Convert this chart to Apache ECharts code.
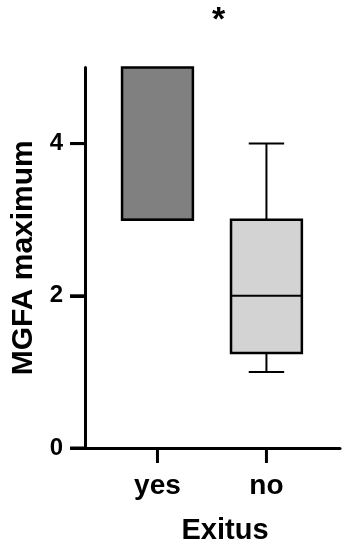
<!DOCTYPE html>
<html>
<head>
<meta charset="utf-8">
<script src="https://cdn.jsdelivr.net/npm/echarts@6/dist/echarts.min.js"></script>
<style>
html,body{margin:0;padding:0;background:#fff;}
#chart{width:349px;height:550px;}
</style>
</head>
<body>
<div id="chart"></div>
<script>
// Data
const categories = ['yes', 'no'];
const mins    = [3, 1];
const q1s     = [3, 1.25];
const medians = [3, 2];
const q3s     = [5, 3];
const maxs    = [5, 4];
const fills   = ['#808080', '#d3d3d3'];
const yTicks  = [0, 2, 4];
const xPositions = [1, 2];

const FONT = 'Liberation Sans, Arial, sans-serif';
const TICK_LEN = 15;
const X_MIN = 0.335, X_MAX = 2.675, Y_MIN = 0, Y_MAX = 5;

const boxData = categories.map((c, i) => [xPositions[i], mins[i], q1s[i], medians[i], q3s[i], maxs[i], i]);

const chart = echarts.init(document.getElementById('chart'));
chart.setOption({
  animation: false,
  backgroundColor: '#ffffff',
  grid: { left: 85, right: 9, top: 67.5, bottom: 100 },
  xAxis: {
    type: 'value',
    min: X_MIN,
    max: X_MAX,
    name: 'Exitus',
    nameLocation: 'middle',
    nameGap: 68,
    nameTextStyle: { fontFamily: FONT, fontWeight: 'bold', fontSize: 29, color: '#000', padding: [0, 0, 0, 25] },
    axisLine: { onZero: false, lineStyle: { color: '#000', width: 3 } },
    axisTick: { show: false },
    axisLabel: {
      customValues: xPositions.slice(),
      formatter: v => categories[xPositions.indexOf(v)] || '',
      fontFamily: FONT, fontWeight: 'bold', fontSize: 28, color: '#000', margin: 24
    },
    splitLine: { show: false }
  },
  yAxis: [{
    type: 'value',
    min: Y_MIN,
    max: Y_MAX,
    name: 'MGFA maximum',
    nameLocation: 'middle',
    nameGap: 46,
    nameRotate: 90,
    nameTextStyle: { fontFamily: FONT, fontWeight: 'bold', fontSize: 30, color: '#000' },
    axisLine: { onZero: false, show: true, lineStyle: { color: '#000', width: 3 } },
    axisTick: { show: false },
    axisLabel: { customValues: yTicks.slice(), fontFamily: FONT, fontWeight: 'bold', fontSize: 24, color: '#000', margin: 22 },
    splitLine: { show: false }
  }, {
    // tick-only companion axis sharing the same scale as the main y axis
    type: 'value',
    position: 'left',
    min: Y_MIN,
    max: Y_MAX,
    axisLine: { show: false, onZero: false },
    axisTick: { show: true, customValues: yTicks.slice(), length: TICK_LEN, lineStyle: { color: '#000', width: 3 } },
    axisLabel: { show: false },
    splitLine: { show: false }
  }],
  graphic: [{
    type: 'text',
    left: 212,
    top: 4,
    style: { text: '*', font: 'bold 34px ' + FONT, fill: '#000' }
  }],
  series: [{
    type: 'custom',
    data: boxData,
    encode: { x: 0, y: [1, 2, 3, 4, 5] },
    renderItem: function (params, api) {
      const x = api.value(0);
      const lo = api.value(1), q1 = api.value(2), med = api.value(3), q3 = api.value(4), hi = api.value(5);
      const idx = api.value(6);
      const unit = api.size([1, 0])[0];
      const w = unit * 0.65;
      const cw = w / 2;
      const pQ1 = api.coord([x, q1]);
      const pQ3 = api.coord([x, q3]);
      const pMed = api.coord([x, med]);
      const pLo = api.coord([x, lo]);
      const pHi = api.coord([x, hi]);
      const cx = pQ1[0];
      const children = [];
      const lineStyle = { stroke: '#000', lineWidth: 2 };
      if (hi > q3) {
        children.push({ type: 'line', shape: { x1: cx, y1: pQ3[1], x2: cx, y2: pHi[1] }, style: lineStyle });
        children.push({ type: 'line', shape: { x1: cx - cw / 2, y1: pHi[1], x2: cx + cw / 2, y2: pHi[1] }, style: lineStyle });
      }
      if (lo < q1) {
        children.push({ type: 'line', shape: { x1: cx, y1: pQ1[1], x2: cx, y2: pLo[1] }, style: lineStyle });
        children.push({ type: 'line', shape: { x1: cx - cw / 2, y1: pLo[1], x2: cx + cw / 2, y2: pLo[1] }, style: lineStyle });
      }
      children.push({
        type: 'rect',
        shape: { x: cx - w / 2, y: pQ3[1], width: w, height: pQ1[1] - pQ3[1] },
        style: { fill: fills[idx], stroke: '#000', lineWidth: 2.5 }
      });
      children.push({ type: 'line', shape: { x1: cx - w / 2, y1: pMed[1], x2: cx + w / 2, y2: pMed[1] }, style: { stroke: '#000', lineWidth: 2 } });
      return { type: 'group', children: children };
    }
  }, {
    // x-axis tick marks, placed through the x scale
    type: 'custom',
    silent: true,
    clip: false,
    zlevel: 1,
    data: xPositions.map(v => [v, Y_MIN]),
    encode: { x: 0, y: 1 },
    renderItem: function (params, api) {
      const p = api.coord([api.value(0), api.value(1)]);
      return { type: 'line', shape: { x1: p[0], y1: p[1], x2: p[0], y2: p[1] + TICK_LEN }, style: { stroke: '#000', lineWidth: 3 } };
    }
  }, {
    // y-axis tick marks, placed through the y scale
    type: 'custom',
    silent: true,
    clip: false,
    zlevel: 1,
    data: yTicks.map(v => [X_MIN, v]),
    encode: { x: 0, y: 1 },
    renderItem: function (params, api) {
      const p = api.coord([api.value(0), api.value(1)]);
      return { type: 'line', shape: { x1: p[0] - TICK_LEN, y1: p[1], x2: p[0], y2: p[1] }, style: { stroke: '#000', lineWidth: 3 } };
    }
  }]
});
</script>
</body>
</html>
